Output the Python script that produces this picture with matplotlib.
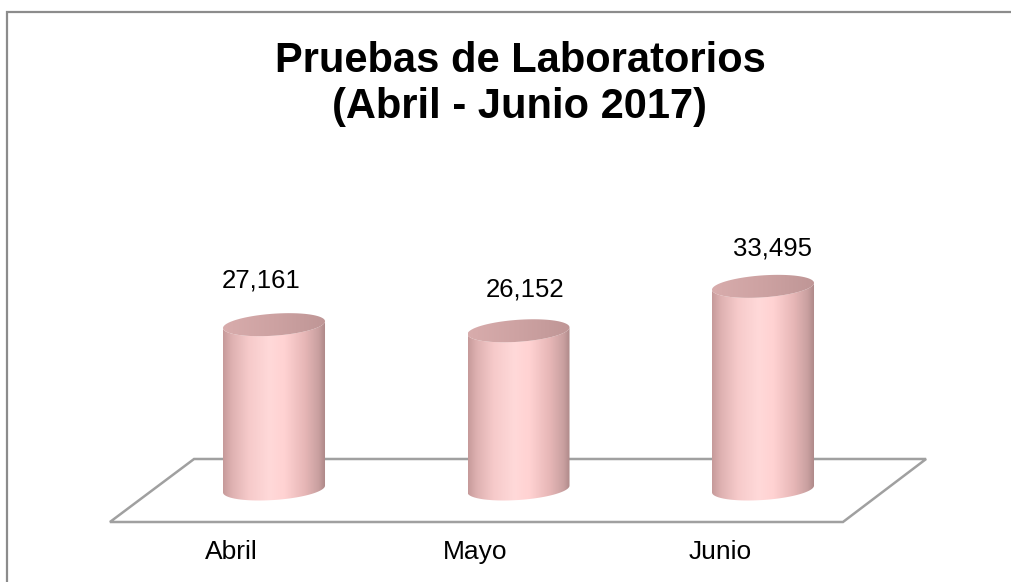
import numpy as np
import matplotlib
matplotlib.use("Agg")
import matplotlib.pyplot as plt
from matplotlib.colors import LinearSegmentedColormap
from matplotlib.patches import Polygon, Rectangle

# ---- data ----
categories = ["Abril", "Mayo", "Junio"]
values = [27161, 26152, 33495]
value_labels = ["27,161", "26,152", "33,495"]
title_lines = ["Pruebas de Laboratorios", "(Abril - Junio 2017)"]

plt.rcParams['font.family'] = ['Liberation Sans', 'DejaVu Sans']

W, H = 1011, 582
fig = plt.figure(figsize=(W / 100, H / 100), dpi=100)
ax = fig.add_axes([0, 0, 1, 1])
ax.set_xlim(-1.1207, 3.0143)
ax.set_ylim(-15372, 80826)
ax.axis("off")

# outer frame (only left and top visible)
fig.patches.append(Rectangle((6.5 / W, -0.2), 2.0, 1 - 11.5 / H + 0.2,
                             transform=fig.transFigure, fill=False,
                             edgecolor="#8c8c8c", linewidth=1.6, zorder=0))

# floor parallelogram
floor_back, floor_front = 4959, -5455
floor = Polygon([(-0.327, floor_back), (2.667, floor_back),
                 (2.327, floor_front), (-0.671, floor_front)],
                closed=True, fill=False, edgecolor="#a0a0a0", linewidth=1.8, zorder=1)
ax.add_patch(floor)

body_cmap = LinearSegmentedColormap.from_list(
    "body", [(0.0, "#c69a9a"), (0.08, "#ddb0b0"), (0.25, "#f6caca"),
             (0.45, "#ffd9d9"), (0.6, "#ffd2d2"), (0.8, "#e6b6b6"),
             (0.93, "#c9a0a0"), (1.0, "#ab8686")])
top_cmap = LinearSegmentedColormap.from_list(
    "top", [(0.0, "#d8acac"), (0.5, "#cda2a2"), (1.0, "#bf9696")])

a = 0.2086      # half width (category units)
b = 1818        # ellipse half height (value units)
k = 560         # tilt
t = np.linspace(0, 2 * np.pi, 200)

# label placement tweaks (pixels -> points at 100 dpi)
label_dx = [-13, 7, 9]
label_dy = [44, 41, 38]

for i, (cat, v, lab) in enumerate(zip(categories, values, value_labels)):
    cx = i
    tb = np.linspace(np.pi, 2 * np.pi, 100)
    bx = cx + a * np.cos(tb)
    by = 0 + b * np.sin(tb) + k * np.cos(tb)
    tt = tb[::-1]
    txx = cx + a * np.cos(tt)
    tyy = v + b * np.sin(tt) + k * np.cos(tt)
    body = Polygon(np.column_stack([np.r_[bx, txx], np.r_[by, tyy]]),
                   closed=True, facecolor="none", edgecolor="none", zorder=2)
    ax.add_patch(body)
    grad = np.linspace(0, 1, 256).reshape(1, -1)
    im = ax.imshow(grad, cmap=body_cmap, aspect="auto",
                   extent=(cx - a, cx + a, -b - k, v + b + k),
                   zorder=2, interpolation="bilinear")
    im.set_clip_path(body)
    ex = cx + a * np.cos(t)
    ey = v + b * np.sin(t) + k * np.cos(t)
    top = Polygon(np.column_stack([ex, ey]), closed=True,
                  facecolor="none", edgecolor="none", zorder=3)
    ax.add_patch(top)
    im2 = ax.imshow(grad, cmap=top_cmap, aspect="auto",
                    extent=(cx - a, cx + a, v - b - k, v + b + k),
                    zorder=3, interpolation="bilinear")
    im2.set_clip_path(top)
    ax.annotate(lab, xy=(cx, v), xytext=(label_dx[i] * 0.72, label_dy[i] * 0.72),
                textcoords="offset points",
                ha="center", va="center", fontsize=18.5, color="black", zorder=5)
    ax.text(cx - 0.176, -10400, cat, ha="center", va="center",
            fontsize=19, color="black", zorder=5)

fig.text(520 / W, 1 - 72 / H, title_lines[0], ha="center", va="baseline",
         fontsize=30, fontweight="bold")
fig.text(520 / W, 1 - 118 / H, title_lines[1], ha="center", va="baseline",
         fontsize=30, fontweight="bold")

fig.savefig("out.png", dpi=100)
